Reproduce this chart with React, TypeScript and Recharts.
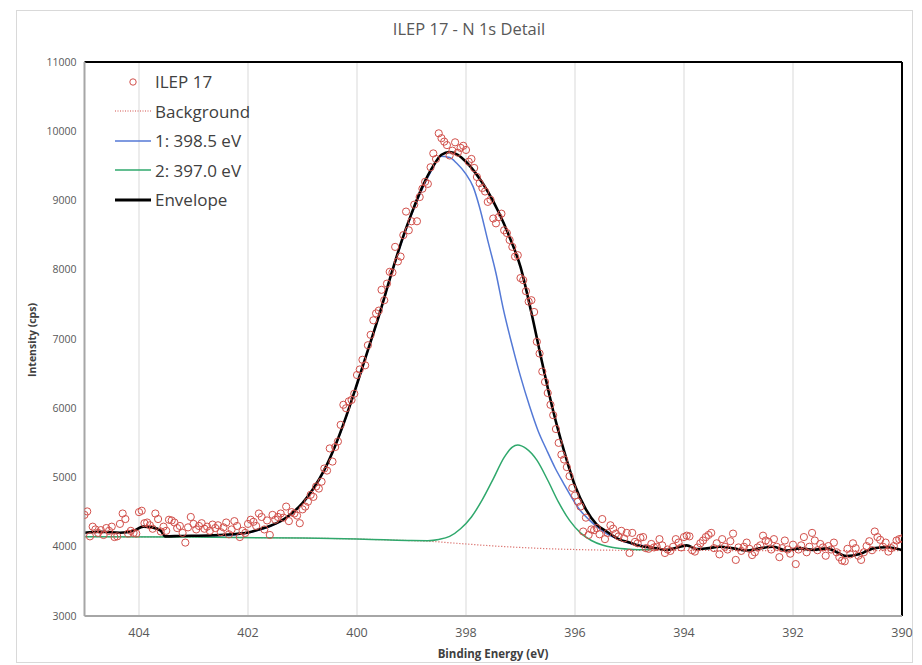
import { ComposedChart, Scatter, Line, XAxis, YAxis, CartesianGrid, ReferenceLine } from 'recharts';

// Raw counts, 405.00 eV -> 390.00 eV in 0.05 eV steps
const scanStart = 405;
const scanStep = 0.05;
const counts = [
  4460, 4510, 4150, 4290, 4250, 4200, 4240, 4170, 4270, 4230, 4290, 4140, 4150, 4330, 4480, 4400, 4190, 4230, 4200, 4190, 4500,
  4520, 4340, 4350, 4310, 4260, 4480, 4400, 4220, 4290, 4230, 4390, 4380, 4350, 4270, 4300, 4200, 4060, 4280, 4430, 4330,
  4250, 4300, 4340, 4260, 4290, 4230, 4320, 4270, 4310, 4210, 4280, 4350, 4180, 4250, 4370, 4300, 4140, 4230, 4200, 4330,
  4390, 4360, 4300, 4480, 4430, 4250, 4380, 4170, 4460, 4390, 4430, 4480, 4420, 4580, 4370, 4500, 4480, 4450, 4340, 4540,
  4580, 4650, 4750, 4720, 4870, 4840, 4940, 5130, 5100, 5420, 5230, 5440, 5520, 5760, 6050, 6000, 6100, 6120, 6210, 6480,
  6560, 6700, 6620, 6910, 7060, 7270, 7370, 7410, 7710, 7560, 7800, 7970, 7960, 8330, 8120, 8190, 8500, 8840, 8570, 8700,
  8940, 8700, 9050, 9170, 9270, 9240, 9480, 9680, 9600, 9970, 9900, 9850, 9800, 9650, 9720, 9840, 9690, 9760, 9790, 9730,
  9560, 9600, 9470, 9340, 9250, 9180, 9130, 8980, 9010, 8740, 8670, 8760, 8810, 8570, 8530, 8430, 8330, 8190, 8210, 7880,
  7850, 7690, 7540, 7560, 7390, 6960, 6790, 6530, 6380, 6220, 6050, 5900, 5700, 5500, 5330, 5260, 5150, 5020, 4850, 4740,
  4650, 4580, 4220, 4420, 4170, 4250, 4240, 4270, 4180, 4400, 4110, 4200, 4310, 4260, 4190, 4150, 4230, 4120, 4200, 3910,
  4200, 4070, 4050, 4130, 4140, 3980, 3970, 4040, 3990, 4000, 4110, 4020, 3910, 3960, 3940, 4000, 4110, 4060, 3990, 4140,
  4160, 4150, 3950, 3930, 3990, 4050, 4090, 4140, 4170, 4200, 3980, 4050, 3890, 4110, 4000, 3960, 4080, 4190, 3810, 3990,
  3940, 4000, 4060, 3970, 3880, 3920, 3990, 4020, 4160, 4090, 4070, 3960, 4110, 4000, 3850, 3980, 4090, 3960, 3900, 4030,
  3750, 3960, 4020, 4140, 3920, 4000, 4200, 4090, 3950, 4040, 3990, 3870, 4010, 3960, 4060, 3920, 3850, 3800, 3790, 3970,
  3890, 4050, 3980, 3870, 3810, 3920, 4010, 4080, 3950, 4220, 4140, 4100, 4000, 4060, 3930, 3980, 4010, 4090, 4110, 4120,
];

const bgE = [405, 403, 401, 400, 399.5, 399, 398.6, 398.3, 398, 397.5, 397, 396.5, 396, 395.5, 395, 394, 392, 390];
const bgV = [4145, 4140, 4125, 4112, 4100, 4088, 4075, 4058, 4040, 4012, 3990, 3972, 3960, 3952, 3948, 3946, 3945, 3945];

const p1E = [403.5, 402.5, 402, 401.6, 401.2, 401, 400.8, 400.6, 400.4, 400.2, 400, 399.8, 399.6, 399.4, 399.2, 399, 398.8, 398.6, 398.48, 398.3, 398.17, 398, 397.87, 397.75, 397.6, 397.45, 397.32, 397.13, 397, 396.83, 396.68, 396.52, 396.36, 396.21, 396.06, 395.91, 395.75, 395.6, 395.4, 395.17, 395, 394.8, 394.6];
const p1V = [4150, 4160, 4200, 4290, 4470, 4620, 4830, 5100, 5450, 5870, 6340, 6830, 7320, 7850, 8350, 8790, 9170, 9480, 9640, 9620, 9537, 9380, 9200, 8900, 8420, 7950, 7450, 6840, 6460, 6022, 5680, 5397, 5130, 4916, 4710, 4531, 4395, 4290, 4180, 4097, 4050, 4020, 4000];

const p2E = [405, 403, 401, 400, 399.5, 399, 398.7, 398.5, 398.3, 398.1, 397.9, 397.7, 397.5, 397.3, 397.15, 397.05, 396.9, 396.7, 396.5, 396.3, 396.1, 395.9, 395.7, 395.5, 395.3, 395, 394.6];
const p2V = [4145, 4140, 4125, 4112, 4100, 4090, 4088, 4105, 4150, 4260, 4430, 4680, 4980, 5290, 5440, 5470, 5420, 5250, 4960, 4640, 4380, 4200, 4090, 4025, 3990, 3965, 3955];

const envE = [405, 404.7, 404.35, 404.1, 403.92, 403.74, 403.6, 403.52, 403.25, 402.65, 402.3, 402, 401.8, 401.6, 401.4, 401.2, 401, 400.8, 400.6, 400.4, 400.2, 400, 399.8, 399.6, 399.4, 399.2, 399, 398.8, 398.6, 398.45, 398.3, 398.15, 398, 397.8, 397.6, 397.4, 397.2, 397, 396.8, 396.6, 396.4, 396.2, 396, 395.8, 395.6, 395.4, 395.2, 395, 394.8, 394.5, 394.32, 394.07, 393.95, 393.77, 393.58, 393.34, 393.1, 392.85, 392.61, 392.36, 392.12, 391.87, 391.63, 391.38, 391.02, 390.77, 390.53, 390.28, 390];
const envV = [4203, 4217, 4203, 4232, 4290, 4276, 4232, 4150, 4155, 4165, 4180, 4205, 4250, 4300, 4370, 4480, 4630, 4840, 5110, 5460, 5880, 6350, 6840, 7330, 7860, 8370, 8810, 9200, 9500, 9660, 9700, 9660, 9560, 9370, 9130, 8830, 8470, 8040, 7380, 6650, 5960, 5380, 4880, 4540, 4320, 4210, 4110, 4060, 4011, 3977, 3955, 4000, 4020, 3967, 3977, 4000, 3977, 3945, 3977, 4000, 3945, 3977, 3955, 3977, 3866, 3895, 3977, 3992, 3953];

const xTicks = [404, 402, 400, 398, 396, 394, 392, 390];
const yTicks = [3000, 4000, 5000, 6000, 7000, 8000, 9000, 10000, 11000];

const pairs = (es: number[], vs: number[]) => es.map((e, i) => ({ e, v: vs[i] }));
const scan = counts.map((v, i) => ({ e: +(scanStart - i * scanStep).toFixed(2), v }));

const FONT = '"Open Sans", sans-serif';
const RED = '#d2504b';
const BLUE = '#5479d6';
const GREEN = '#2fa86c';

const Ring = (props: any) => {
  const { cx, cy } = props;
  if (cx == null || cy == null) return null;
  return <circle cx={cx} cy={cy} r={3.6} fill="none" stroke={RED} strokeWidth={1} />;
};

const legendItems = [
  { label: 'ILEP 17', kind: 'ring' },
  { label: 'Background', kind: 'dot' },
  { label: '1: 398.5 eV', kind: 'blue' },
  { label: '2: 397.0 eV', kind: 'green' },
  { label: 'Envelope', kind: 'black' },
];

function LegendSample({ kind }: { kind: string }) {
  return (
    <svg width={40} height={12} style={{ display: 'block' }}>
      {kind === 'ring' && <circle cx={20} cy={6} r={3.2} fill="none" stroke={RED} strokeWidth={1} />}
      {kind === 'dot' && <line x1={2} x2={38} y1={6} y2={6} stroke={RED} strokeWidth={1.2} strokeDasharray="1 1.5" />}
      {kind === 'blue' && <line x1={2} x2={38} y1={6} y2={6} stroke={BLUE} strokeWidth={1.5} />}
      {kind === 'green' && <line x1={2} x2={38} y1={6} y2={6} stroke={GREEN} strokeWidth={1.5} />}
      {kind === 'black' && <line x1={2} x2={38} y1={6} y2={6} stroke="#000" strokeWidth={3} />}
    </svg>
  );
}

export default function App() {
  return (
    <div style={{ position: 'absolute', left: 0, top: 0, width: 922, height: 665, background: '#fff', fontFamily: FONT }}>
      {/* chart frame */}
      <div style={{ position: 'absolute', left: 16, top: 10, width: 895, height: 651, border: '1px solid #d9d9d9' }} />

      <div style={{ position: 'absolute', left: 0, top: 17, width: 938, textAlign: 'center', fontSize: 16.5, color: '#595959' }}>
        ILEP 17 - N 1s Detail
      </div>

      <ComposedChart
        width={922}
        height={665}
        margin={{ top: 62, right: 20, bottom: 19, left: 24.5 }}
        style={{ position: 'absolute', left: 0, top: 0 }}
      >
        <CartesianGrid horizontal={false} stroke="#d9d9d9" strokeWidth={1} />
        <XAxis
          dataKey="e"
          type="number"
          domain={[390, 405]}
          reversed
          allowDataOverflow
          ticks={xTicks}
          height={30}
          tickSize={0}
          tickMargin={12}
          axisLine={{ stroke: '#a6a6a6', strokeWidth: 2 }}
          tick={{ fontSize: 12.5, fill: '#595959', fontFamily: FONT }}
        />
        <YAxis
          dataKey="v"
          type="number"
          domain={[3000, 11000]}
          allowDataOverflow
          ticks={yTicks}
          width={60}
          tickSize={0}
          tickMargin={8}
          axisLine={{ stroke: '#a6a6a6', strokeWidth: 2 }}
          tick={{ fontSize: 10.5, fill: '#595959', fontFamily: FONT }}
        />
        <ReferenceLine y={11000} stroke="#000" strokeWidth={2} />
        <ReferenceLine x={390} stroke="#000" strokeWidth={2} />
        <Scatter data={scan} dataKey="v" shape={Ring} isAnimationActive={false} />
        <Line data={pairs(bgE, bgV)} dataKey="v" type="monotone" stroke={RED} strokeWidth={1.2} strokeDasharray="1 2" dot={false} isAnimationActive={false} />
        <Line data={pairs(p1E, p1V)} dataKey="v" type="monotone" stroke={BLUE} strokeWidth={1.5} dot={false} isAnimationActive={false} />
        <Line data={pairs(p2E, p2V)} dataKey="v" type="monotone" stroke={GREEN} strokeWidth={1.5} dot={false} isAnimationActive={false} />
        <Line data={pairs(envE, envV)} dataKey="v" type="monotone" stroke="#000" strokeWidth={2.6} dot={false} isAnimationActive={false} />
      </ComposedChart>

      {/* legend */}
      <div style={{ position: 'absolute', left: 113, top: 67 }}>
        {legendItems.map((it) => (
          <div key={it.label} style={{ display: 'flex', alignItems: 'center', height: 29.5 }}>
            <LegendSample kind={it.kind} />
            <span style={{ fontSize: 17, color: '#404040', marginLeft: 2 }}>{it.label}</span>
          </div>
        ))}
      </div>

      <div style={{ position: 'absolute', left: 84, top: 646, width: 818, textAlign: 'center', fontSize: 11.5, fontWeight: 700, color: '#404040' }}>
        Binding Energy (eV)
      </div>
      <div
        style={{
          position: 'absolute',
          left: 32,
          top: 340,
          transform: 'translate(-50%, -50%) rotate(-90deg)',
          whiteSpace: 'nowrap',
          fontSize: 10.5,
          fontWeight: 700,
          color: '#404040',
        }}
      >
        Intensity (cps)
      </div>
    </div>
  );
}
